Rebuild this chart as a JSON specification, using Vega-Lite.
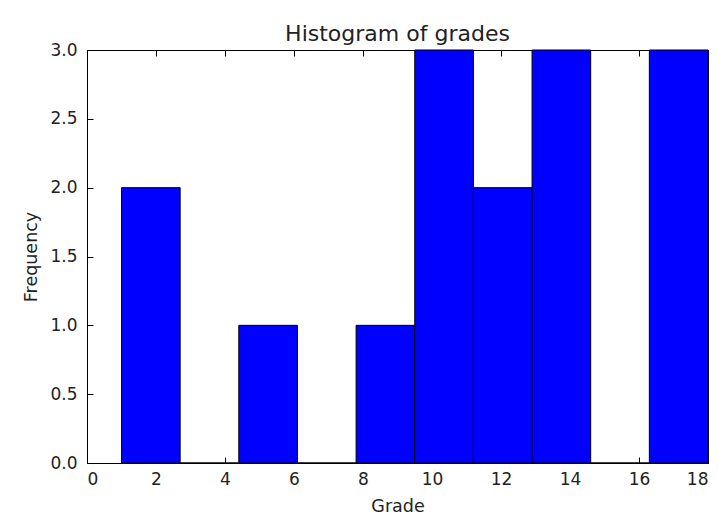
{
  "$schema": "https://vega.github.io/schema/vega-lite/v6.json",
  "width": 621,
  "height": 413,
  "autosize": {"type": "none"},
  "padding": {"left": 87, "top": 50, "right": 11, "bottom": 61},
  "background": "white",
  "config": {
    "font": "DejaVu Sans",
    "view": {"stroke": "black", "strokeWidth": 1},
    "axis": {"grid": false, "domain": false, "zindex": 1, "offset": -6, "tickColor": "black", "tickSize": 6, "tickWidth": 1, "labelColor": "#222", "titleColor": "#222", "labelFont": "DejaVu Sans", "titleFont": "DejaVu Sans", "titleFontWeight": "normal", "labelFontSize": 17, "titleFontSize": 17.5}
  },
  "title": {"text": "Histogram of grades", "font": "DejaVu Sans", "fontSize": 22, "fontWeight": "normal", "color": "#222", "offset": -5},
  "data": {"values": [
    {"bin_start": 1.0, "bin_end": 2.7, "count": 2},
    {"bin_start": 2.7, "bin_end": 4.4, "count": 0},
    {"bin_start": 4.4, "bin_end": 6.1, "count": 1},
    {"bin_start": 6.1, "bin_end": 7.8, "count": 0},
    {"bin_start": 7.8, "bin_end": 9.5, "count": 1},
    {"bin_start": 9.5, "bin_end": 11.2, "count": 3},
    {"bin_start": 11.2, "bin_end": 12.9, "count": 2},
    {"bin_start": 12.9, "bin_end": 14.6, "count": 3},
    {"bin_start": 14.6, "bin_end": 16.3, "count": 0},
    {"bin_start": 16.3, "bin_end": 18.0, "count": 3}
  ]},
  "resolve": {"axis": {"x": "independent", "y": "independent"}},
  "layer": [
    {
      "mark": {"type": "rect", "fill": "#0000ff", "stroke": "black", "strokeWidth": 1},
      "encoding": {
        "x": {"field": "bin_start", "type": "quantitative", "scale": {"domain": [0, 18], "nice": false, "zero": false},
              "axis": {"orient": "bottom", "values": [0,2,4,6,8,10,12,14,16,18], "title": "Grade", "labelPadding": 8, "titlePadding": 10}},
        "x2": {"field": "bin_end"},
        "y": {"field": "count", "type": "quantitative", "scale": {"domain": [0, 3], "nice": false},
              "axis": {"orient": "left", "values": [0,0.5,1,1.5,2,2.5,3], "format": ".1f", "title": "Frequency", "labelPadding": 10, "titlePadding": 9}},
        "y2": {"datum": 0}
      }
    },
    {
      "mark": {"type": "rect", "opacity": 0},
      "encoding": {
        "x": {"field": "bin_start", "type": "quantitative",
              "axis": {"orient": "top", "values": [0,2,4,6,8,10,12,14,16,18], "labels": false, "title": null}},
        "x2": {"field": "bin_end"},
        "y": {"field": "count", "type": "quantitative",
              "axis": {"orient": "right", "values": [0,0.5,1,1.5,2,2.5,3], "labels": false, "title": null}},
        "y2": {"datum": 0}
      }
    }
  ]
}
